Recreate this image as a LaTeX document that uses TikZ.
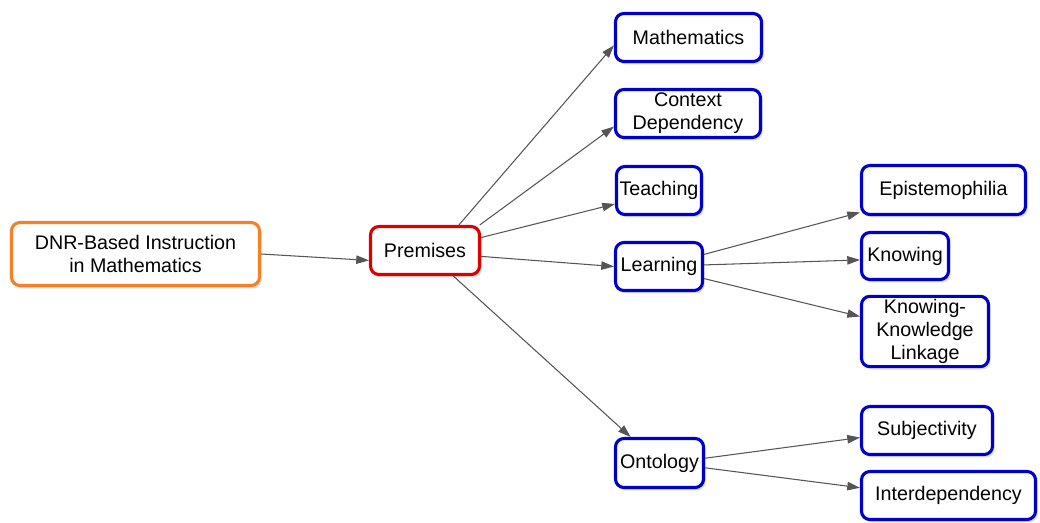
\documentclass[tikz,border=0pt]{standalone}
\usepackage{fontspec}
\setmainfont{Liberation Sans}
\usetikzlibrary{arrows.meta,shadows}
\definecolor{DOrange}{HTML}{F58025}
\definecolor{PRed}{HTML}{DD0000}
\definecolor{CBlue}{HTML}{0000CC}
\definecolor{LGray}{HTML}{555555}
\tikzset{
    box/.style = {draw, rectangle, rounded corners=6pt, fill=white,
        line width=2.2pt, align=center, inner sep=2pt,
        font=\fontsize{14}{16.5}\selectfont,
        minimum height=1.2cm,
        drop shadow={shadow xshift=1.5pt, shadow yshift=-2pt, opacity=0.25}},
    root/.style = {box, draw=DOrange},
    hub/.style = {box, draw=PRed},
    leaf/.style = {box, draw=CBlue},
    arrow/.style = {draw=LGray, line width=0.75pt, -{Triangle[length=9pt,width=6pt]}}
}
\begin{document}
\begin{tikzpicture}[x=0.025cm,y=-0.025cm]
        \useasboundingbox (0,0) rectangle (1040,522);
        \node[root, minimum width=6.2cm, minimum height=1.575cm] (dnr) at (135.5,254) {DNR-Based Instruction\\in Mathematics};
        \node[hub, minimum width=2.725cm] (premises) at (425,250.5) {Premises};
        % first level
        \node[leaf, minimum width=3.65cm] (maths) at (688.5,37.5) {Mathematics};
        \node[leaf, minimum width=3.625cm] (context) at (688,113.5) {Context\\Dependency};
        \node[leaf, minimum width=2.125cm] (teaching) at (659,190.5) {Teaching};
        \node[leaf, minimum width=2.175cm] (learning) at (659,266.5) {Learning};
        \node[leaf, minimum width=2.2cm, minimum height=1.225cm] (ontology) at (659.5,463) {Ontology};
        % second level
        \node[leaf, minimum width=4.1cm, minimum height=1.225cm] (episto) at (943.5,190) {Epistemophilia};
        \node[leaf, minimum width=2.175cm, minimum height=1.175cm] (knowing) at (905,256) {Knowing};
        \node[leaf, minimum width=3.175cm, minimum height=1.75cm] (linkage) at (925,331.5) {Knowing-\\Knowledge\\Linkage};
        \node[leaf, minimum width=3.275cm] (subject) at (927,430.5) {Subjectivity};
        \node[leaf, minimum width=4.35cm] (interdep) at (948.5,495.5) {Interdependency};
        % connectors
        \draw[arrow] (dnr.east) -- (premises.190);
        \draw[arrow] (premises.37) -- (maths.186);
        \draw[arrow] (premises.25) -- (context.190);
        \draw[arrow] (premises.13) -- (teaching.197);
        \draw[arrow] (premises.-6) -- (learning.west);
        \draw[arrow] (premises.-42) -- (ontology.138);
        \draw[arrow] (learning.15) -- (episto.195);
        \draw[arrow] (learning.2) -- (knowing.185);
        \draw[arrow] (learning.-15) -- (linkage.167);
        \draw[arrow] (ontology.6) -- (subject.186);
        \draw[arrow] (ontology.-6) -- (interdep.175);
\end{tikzpicture}
\end{document}
